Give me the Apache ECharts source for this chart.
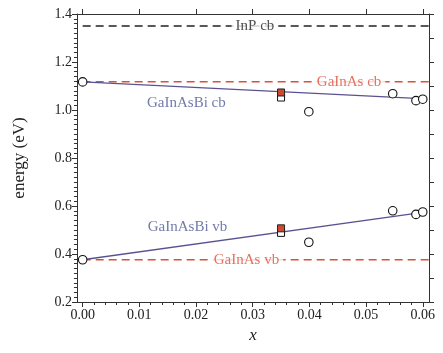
<!DOCTYPE html>
<html>
<head>
<meta charset="utf-8">
<script src="https://cdn.jsdelivr.net/npm/echarts@6/dist/echarts.min.js"></script>
<style>
  html, body { margin: 0; padding: 0; background: #fff; }
  #chart { width: 443px; height: 353px; }
</style>
</head>
<body>
<div id="chart"></div>
<script>
// Band edges of GaInAsBi on InP versus Bi fraction x
const xRange = [-0.001, 0.0611];
const xTicks = [0, 0.01, 0.02, 0.03, 0.04, 0.05, 0.06];
const xMinorTicks = [];
for (let i = 0; i <= 30; i++) xMinorTicks.push(+(i * 0.002).toFixed(3));

// reference levels (eV)
const inpCb = 1.35;
const gainasCb = 1.118;
const gainasVb = 0.376;
const refLineX = [0, 0.0611];

// fitted band edges (two end points each)
const fitX = [0, 0.0597];
const fitCb = [1.117, 1.047];
const fitVb = [0.376, 0.572];

// open circles
const circleX = [0, 0.0399, 0.0547, 0.0588, 0.0600];
const circleCb = [1.117, 0.993, 1.068, 1.039, 1.045];
const circleVb = [0.376, 0.449, 0.580, 0.565, 0.575];

// squares at x = 0.035
const squareX = [0.035];
const openSquareCb = [1.052];
const openSquareVb = [0.488];
const filledSquareCb = [1.073];
const filledSquareVb = [0.507];

// curve labels: [x, y, text]
const labelInP = [0.0304, inpCb, 'InP cb'];
const labelGaInAsCb = [0.0470, gainasCb, 'GaInAs cb'];
const labelGaInAsVb = [0.0289, gainasVb, 'GaInAs vb'];
const labelBiCb = [0.0183, 1.029, 'GaInAsBi cb'];
const labelBiVb = [0.0185, 0.514, 'GaInAsBi vb'];

const FONT = '"Liberation Serif", "DejaVu Serif", serif';
const AX = '#333';
const RED = '#dd5038';
const FIT = '#5a5290';
const BLUE = '#4d5a93';

const zip = (xs, ys) => xs.map((x, i) => [x, ys[i]]);

function refLine(y, color, z) {
  return {
    type: 'line', data: zip(refLineX, [y, y]), symbol: 'none', z: z,
    lineStyle: { color: color, width: 1.5, type: [8, 5] }, silent: true
  };
}
function textMark(lab, color, masked) {
  const label = {
    show: true, position: 'inside', formatter: lab[2], color: color,
    fontFamily: FONT, fontSize: 15
  };
  if (masked) { label.backgroundColor = '#fff'; label.padding = [0, 4]; }
  return { type: 'scatter', data: [[lab[0], lab[1]]], symbolSize: 0, z: 6, silent: true, label: label };
}

const chart = echarts.init(document.getElementById('chart'), null, { renderer: 'canvas' });
chart.setOption({
  animation: false,
  backgroundColor: '#fff',
  grid: { left: 77, right: 14, top: 14, bottom: 51 },
  xAxis: [
    {
      type: 'value', position: 'bottom', min: xRange[0], max: xRange[1],
      name: 'x', nameLocation: 'middle', nameGap: 22,
      nameTextStyle: { fontFamily: FONT, fontStyle: 'italic', fontSize: 17, color: '#222' },
      axisLine: { show: true, onZero: false, lineStyle: { color: AX, width: 1 } },
      axisTick: { show: true, inside: false, length: 5, customValues: xTicks, lineStyle: { color: AX } },
      axisLabel: { show: true, customValues: xTicks, fontFamily: FONT, fontSize: 14, color: '#222', margin: 6,
                   formatter: v => v.toFixed(2) },
      splitLine: { show: false }
    },
    {
      type: 'value', position: 'top', min: xRange[0], max: xRange[1],
      axisLine: { show: true, onZero: false, lineStyle: { color: AX, width: 1 } },
      axisTick: { show: true, inside: false, length: 5, customValues: xTicks, lineStyle: { color: AX } },
      axisLabel: { show: false },
      splitLine: { show: false }
    },
    {
      type: 'value', position: 'bottom', min: xRange[0], max: xRange[1],
      axisLine: { show: false },
      axisTick: { show: true, inside: false, length: 3, customValues: xMinorTicks, lineStyle: { color: AX } },
      axisLabel: { show: false },
      splitLine: { show: false }
    }
  ],
  yAxis: [
    {
      type: 'value', position: 'left', min: 0.2, max: 1.4, interval: 0.2,
      name: 'energy (eV)', nameLocation: 'middle', nameGap: 49,
      nameTextStyle: { fontFamily: FONT, fontSize: 17, color: '#222' },
      axisLine: { show: true, onZero: false, lineStyle: { color: AX, width: 1 } },
      axisTick: { show: true, inside: false, length: 5, lineStyle: { color: AX } },
      minorTick: { show: true, splitNumber: 10, length: 3, lineStyle: { color: AX } },
      axisLabel: { fontFamily: FONT, fontSize: 14, color: '#222', margin: 5, formatter: v => v.toFixed(1) },
      splitLine: { show: false }
    },
    {
      type: 'value', position: 'right', min: 0.2, max: 1.4, interval: 0.1,
      axisLine: { show: true, onZero: false, lineStyle: { color: AX, width: 1 } },
      axisTick: { show: true, inside: false, length: 5, lineStyle: { color: AX } },
      axisLabel: { show: false },
      splitLine: { show: false }
    }
  ],
  series: [
    refLine(inpCb, '#222', 2),
    refLine(gainasCb, RED, 2),
    refLine(gainasVb, RED, 2),
    { type: 'line', data: zip(fitX, fitCb), symbol: 'none', z: 3, silent: true,
      lineStyle: { color: FIT, width: 1.3 } },
    { type: 'line', data: zip(fitX, fitVb), symbol: 'none', z: 3, silent: true,
      lineStyle: { color: FIT, width: 1.3 } },
    textMark(labelInP, '#222', true),
    textMark(labelGaInAsCb, RED, true),
    textMark(labelGaInAsVb, RED, true),
    textMark(labelBiCb, BLUE, false),
    textMark(labelBiVb, BLUE, false),
    { type: 'scatter', data: zip(circleX, circleCb).concat(zip(circleX, circleVb)),
      symbol: 'circle', symbolSize: 8.5, z: 7, silent: true,
      itemStyle: { color: '#fff', borderColor: '#111', borderWidth: 1.1, opacity: 1 } },
    { type: 'scatter', data: zip(squareX, openSquareCb).concat(zip(squareX, openSquareVb)),
      symbol: 'rect', symbolSize: 7, z: 7, silent: true,
      itemStyle: { color: '#fff', borderColor: '#111', borderWidth: 1, opacity: 1 } },
    { type: 'scatter', data: zip(squareX, filledSquareCb).concat(zip(squareX, filledSquareVb)),
      symbol: 'rect', symbolSize: 7, z: 8, silent: true,
      itemStyle: { color: '#cf4a30', borderColor: '#222', borderWidth: 1, opacity: 1 } }
  ]
});
</script>
</body>
</html>
